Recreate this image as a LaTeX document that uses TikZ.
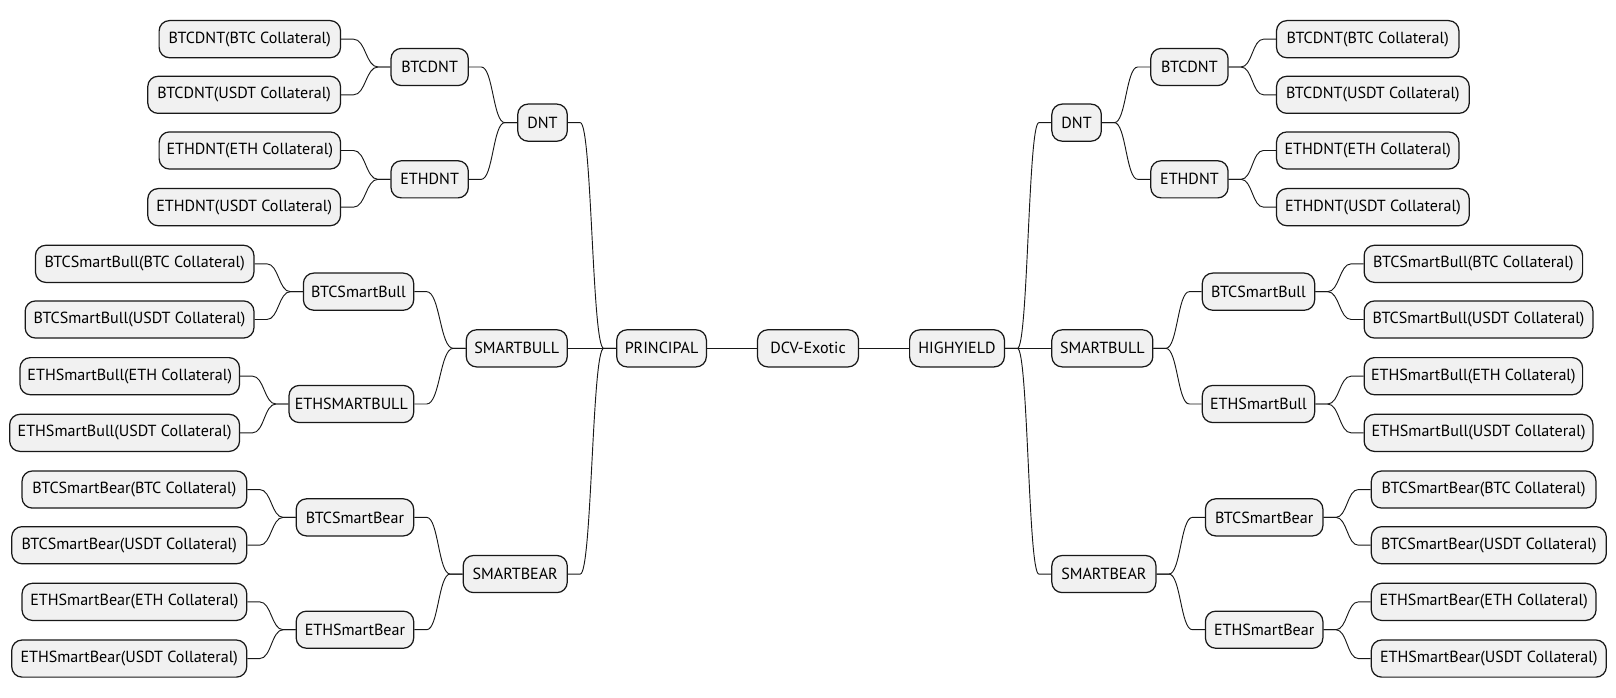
\documentclass[tikz,border=0pt]{standalone}
\usepackage{fontspec}
\setmainfont{PT Sans}
\usetikzlibrary{calc}
\definecolor{boxfill}{HTML}{F1F1F1}
\definecolor{ink}{HTML}{181818}
\newcommand\linkR[2]{\draw[conn] let \p1=(#1.east), \p2=(#2.west) in (#1.east) -- ({\x1+12pt},\y1) .. controls ({0.5*\x1+0.5*\x2},\y1) and ({0.5*\x1+0.5*\x2},\y2) .. ({\x2-12pt},\y2) -- (#2.west);}
\newcommand\linkL[2]{\draw[conn] let \p1=(#1.west), \p2=(#2.east) in (#1.west) -- ({\x1-12pt},\y1) .. controls ({0.5*\x1+0.5*\x2},\y1) and ({0.5*\x1+0.5*\x2},\y2) .. ({\x2+12pt},\y2) -- (#2.east);}
\begin{document}
\begin{tikzpicture}[x=1pt,y=-1pt,
  box/.style={draw=ink, fill=boxfill, line width=1.2pt, rounded corners=10pt, minimum height=36pt, inner sep=0pt, text=black, font=\fontsize{15.6}{18}\selectfont},
  lbox/.style={box, anchor=east},
  rbox/.style={box, anchor=west},
  conn/.style={draw=ink, line width=0.9pt}]
\useasboundingbox (0,0) rectangle (1568,677);
% center
\node[box, minimum width=98pt] (dcv) at (784,338) {DCV-Exotic};
\node[lbox, minimum width=87pt] (pr) at (686,338) {PRINCIPAL};
\node[rbox, minimum width=92pt] (hy) at (882,338) {HIGHYIELD};
% left top
\node[lbox, minimum width=48pt] (ldnt) at (551,119) {DNT};
\node[lbox, minimum width=98pt] (lbull) at (551,338) {SMARTBULL};
\node[lbox, minimum width=101pt] (lbear) at (551,557) {SMARTBEAR};
% left mid
\node[lbox, minimum width=75pt] (lbtcdnt) at (455,65) {BTCDNT};
\node[lbox, minimum width=75pt] (lethdnt) at (455,174) {ETHDNT};
\node[lbox, minimum width=107pt] (lbtcbull) at (402,283) {BTCSmartBull};
\node[lbox, minimum width=121pt] (lethbull) at (402,392) {ETHSMARTBULL};
\node[lbox, minimum width=114pt] (lbtcbear) at (402,502) {BTCSmartBear};
\node[lbox, minimum width=114pt] (lethbear) at (402,611) {ETHSmartBear};
% left leaves
\node[lbox, minimum width=176pt] (l1) at (331,38) {BTCDNT(BTC Collateral)};
\node[lbox, minimum width=187pt] (l2) at (331,92) {BTCDNT(USDT Collateral)};
\node[lbox, minimum width=176pt] (l3) at (331,146) {ETHDNT(ETH Collateral)};
\node[lbox, minimum width=187pt] (l4) at (331,201) {ETHDNT(USDT Collateral)};
\node[lbox, minimum width=212pt] (l5) at (247,256) {BTCSmartBull(BTC Collateral)};
\node[lbox, minimum width=222pt] (l6) at (247,310) {BTCSmartBull(USDT Collateral)};
\node[lbox, minimum width=213pt] (l7) at (233,365) {ETHSmartBull(ETH Collateral)};
\node[lbox, minimum width=223pt] (l8) at (233,420) {ETHSmartBull(USDT Collateral)};
\node[lbox, minimum width=218pt] (l9) at (240,475) {BTCSmartBear(BTC Collateral)};
\node[lbox, minimum width=228pt] (l10) at (240,529) {BTCSmartBear(USDT Collateral)};
\node[lbox, minimum width=218pt] (l11) at (240,584) {ETHSmartBear(ETH Collateral)};
\node[lbox, minimum width=228pt] (l12) at (240,639) {ETHSmartBear(USDT Collateral)};
% right top
\node[rbox, minimum width=48pt] (rdnt) at (1020,119) {DNT};
\node[rbox, minimum width=98pt] (rbull) at (1020,338) {SMARTBULL};
\node[rbox, minimum width=101pt] (rbear) at (1020,557) {SMARTBEAR};
% right mid
\node[rbox, minimum width=75pt] (rbtcdnt) at (1116,65) {BTCDNT};
\node[rbox, minimum width=75pt] (rethdnt) at (1116,174) {ETHDNT};
\node[rbox, minimum width=109pt] (rbtcbull) at (1166,283) {BTCSmartBull};
\node[rbox, minimum width=109pt] (rethbull) at (1166,392) {ETHSmartBull};
\node[rbox, minimum width=114pt] (rbtcbear) at (1169,502) {BTCSmartBear};
\node[rbox, minimum width=114pt] (rethbear) at (1169,611) {ETHSmartBear};
% right leaves
\node[rbox, minimum width=177pt] (r1) at (1238,38) {BTCDNT(BTC Collateral)};
\node[rbox, minimum width=187pt] (r2) at (1238,92) {BTCDNT(USDT Collateral)};
\node[rbox, minimum width=177pt] (r3) at (1238,146) {ETHDNT(ETH Collateral)};
\node[rbox, minimum width=187pt] (r4) at (1238,201) {ETHDNT(USDT Collateral)};
\node[rbox, minimum width=212pt] (r5) at (1323,256) {BTCSmartBull(BTC Collateral)};
\node[rbox, minimum width=222pt] (r6) at (1323,310) {BTCSmartBull(USDT Collateral)};
\node[rbox, minimum width=212pt] (r7) at (1323,365) {ETHSmartBull(ETH Collateral)};
\node[rbox, minimum width=222pt] (r8) at (1323,420) {ETHSmartBull(USDT Collateral)};
\node[rbox, minimum width=218pt] (r9) at (1330,475) {BTCSmartBear(BTC Collateral)};
\node[rbox, minimum width=228pt] (r10) at (1330,529) {BTCSmartBear(USDT Collateral)};
\node[rbox, minimum width=218pt] (r11) at (1330,584) {ETHSmartBear(ETH Collateral)};
\node[rbox, minimum width=228pt] (r12) at (1330,639) {ETHSmartBear(USDT Collateral)};
% center links
\draw[conn] (pr) -- (dcv);
\draw[conn] (dcv) -- (hy);
% left links
\linkL{pr}{ldnt}\linkL{pr}{lbull}\linkL{pr}{lbear}
\linkL{ldnt}{lbtcdnt}\linkL{ldnt}{lethdnt}
\linkL{lbull}{lbtcbull}\linkL{lbull}{lethbull}
\linkL{lbear}{lbtcbear}\linkL{lbear}{lethbear}
\linkL{lbtcdnt}{l1}\linkL{lbtcdnt}{l2}
\linkL{lethdnt}{l3}\linkL{lethdnt}{l4}
\linkL{lbtcbull}{l5}\linkL{lbtcbull}{l6}
\linkL{lethbull}{l7}\linkL{lethbull}{l8}
\linkL{lbtcbear}{l9}\linkL{lbtcbear}{l10}
\linkL{lethbear}{l11}\linkL{lethbear}{l12}
% right links
\linkR{hy}{rdnt}\linkR{hy}{rbull}\linkR{hy}{rbear}
\linkR{rdnt}{rbtcdnt}\linkR{rdnt}{rethdnt}
\linkR{rbull}{rbtcbull}\linkR{rbull}{rethbull}
\linkR{rbear}{rbtcbear}\linkR{rbear}{rethbear}
\linkR{rbtcdnt}{r1}\linkR{rbtcdnt}{r2}
\linkR{rethdnt}{r3}\linkR{rethdnt}{r4}
\linkR{rbtcbull}{r5}\linkR{rbtcbull}{r6}
\linkR{rethbull}{r7}\linkR{rethbull}{r8}
\linkR{rbtcbear}{r9}\linkR{rbtcbear}{r10}
\linkR{rethbear}{r11}\linkR{rethbear}{r12}
\end{tikzpicture}
\end{document}
